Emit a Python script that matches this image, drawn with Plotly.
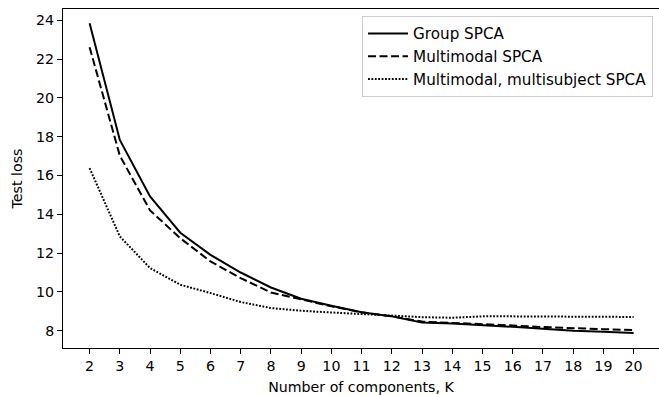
import plotly.graph_objects as go

K = list(range(2, 21))
group_spca = [23.84, 17.83, 14.92, 13.05, 11.91, 11.0, 10.23, 9.65, 9.29, 8.95, 8.74, 8.42, 8.37, 8.3, 8.2, 8.1, 8.0, 7.95, 7.88]
multimodal_spca = [22.61, 17.02, 14.2, 12.77, 11.57, 10.71, 9.97, 9.6, 9.26, 8.95, 8.74, 8.47, 8.41, 8.36, 8.27, 8.19, 8.12, 8.08, 8.03]
multisubject_spca = [16.38, 12.86, 11.23, 10.37, 9.94, 9.48, 9.17, 9.03, 8.94, 8.86, 8.76, 8.7, 8.67, 8.74, 8.74, 8.73, 8.72, 8.72, 8.71]
series_names = ["Group SPCA", "Multimodal SPCA", "Multimodal, multisubject SPCA"]

FONT = "DejaVu Sans, sans-serif"
FS = 14.2
LFS = 15.2
fig = go.Figure()
for name, vals, dash in zip(series_names,
                            [group_spca, multimodal_spca, multisubject_spca],
                            ["solid", "8px,3.5px", "1.8px,1.6px"]):
    fig.add_trace(go.Scatter(x=K, y=vals, mode="lines", name=name,
                             line=dict(color="black", width=2, dash=dash)))

axis_common = dict(showline=True, linecolor="black", linewidth=1, mirror=True,
                   ticks="outside", ticklen=5, tickcolor="black", showgrid=False,
                   zeroline=False, automargin=False,
                   tickfont=dict(family=FONT, size=FS, color="black"))
fig.update_layout(
    width=659, height=395,
    margin=dict(l=63, r=0, t=9, b=47),
    plot_bgcolor="white", paper_bgcolor="white",
    font=dict(family=FONT, size=FS, color="black"),
    xaxis=dict(range=[1.12, 20.84], tickmode="array", tickvals=K,
               title=dict(text="Number of components, K", font=dict(family=FONT, size=FS), standoff=9),
               **axis_common),
    yaxis=dict(range=[7.11, 24.58], tickmode="array", tickvals=list(range(8, 25, 2)),
               title=dict(text="Test loss", font=dict(family=FONT, size=FS), standoff=10),
               **axis_common),
    legend=dict(x=0.99, y=0.979, xanchor="right", yanchor="top",
                bordercolor="#cccccc", borderwidth=1, bgcolor="rgba(255,255,255,0.8)",
                font=dict(family=FONT, size=LFS), itemwidth=40, tracegroupgap=0),
    showlegend=True,
)
fig.write_html("out.html", config={"displayModeBar": False},
               post_script="document.body.style.margin='0px';")
